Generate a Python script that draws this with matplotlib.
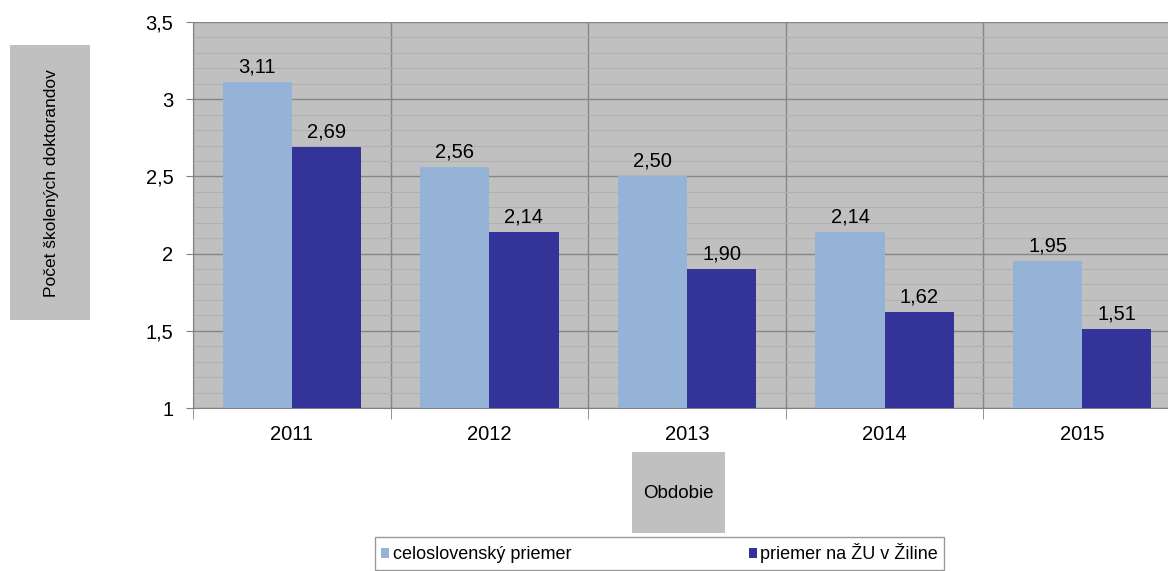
#!/usr/bin/env python3
"""Počet školených doktorandov - grouped bars, Excel-like look."""
import matplotlib
matplotlib.use('Agg')
import matplotlib.pyplot as plt
from matplotlib.patches import Rectangle
from matplotlib.ticker import MultipleLocator, FixedLocator, FuncFormatter

years = ['2011', '2012', '2013', '2014', '2015']
slovakia_avg = [3.11, 2.56, 2.50, 2.14, 1.95]
zu_avg = [2.69, 2.14, 1.90, 1.62, 1.51]
series_names = ['celoslovenský priemer', 'priemer na ŽU v Žiline']

LIGHT = '#95B3D7'
DARK = '#333399'
PLOT_BG = '#C0C0C0'
GRID_MAJ = '#868686'
GRID_MIN = '#B0B0B0'

plt.rcParams['font.family'] = ['Liberation Sans', 'DejaVu Sans']

W, H = 1168, 571
fig = plt.figure(figsize=(W / 100, H / 100), dpi=100)
fig.patch.set_facecolor('white')

# plot area in pixels: x 193..1181 (cut at right edge), y 22..408
ax = fig.add_axes([193 / W, (H - 408) / H, (1181 - 193) / W, (408 - 22) / H])
ax.set_facecolor(PLOT_BG)

x = list(range(len(years)))
bw = 0.35
b1 = ax.bar([i - bw / 2 for i in x], slovakia_avg, bw, color=LIGHT, zorder=3,
            label=series_names[0])
b2 = ax.bar([i + bw / 2 for i in x], zu_avg, bw, color=DARK, zorder=3,
            label=series_names[1])

fmt = lambda v: f'{v:.2f}'.replace('.', ',')
ax.bar_label(b1, labels=[fmt(v) for v in slovakia_avg], padding=4, fontsize=14.5)
ax.bar_label(b2, labels=[fmt(v) for v in zu_avg], padding=4, fontsize=14.5)

ax.set_xlim(-0.5, len(years) - 0.5)
ax.set_ylim(1, 3.5)

# y axis
ax.yaxis.set_major_locator(MultipleLocator(0.5))
ax.yaxis.set_minor_locator(MultipleLocator(0.1))
ax.yaxis.set_major_formatter(FuncFormatter(lambda v, p: f'{v:g}'.replace('.', ',')))
ax.tick_params(axis='y', which='major', length=5, color='#808080', labelsize=14.5, pad=9)
ax.tick_params(axis='y', which='minor', length=0)
ax.grid(axis='y', which='major', color=GRID_MAJ, linewidth=1.0, zorder=1)
ax.grid(axis='y', which='minor', color=GRID_MIN, linewidth=0.8, zorder=1)

# x axis: labels centred, ticks at category boundaries
ax.set_xticks(x)
ax.set_xticklabels(years)
ax.xaxis.set_minor_locator(FixedLocator([i + 0.5 for i in x[:-1]] + [-0.5]))
ax.tick_params(axis='x', which='major', length=0, labelsize=14.5, pad=12)
ax.tick_params(axis='x', which='minor', length=8, color='#808080')
ax.grid(axis='x', which='minor', color=GRID_MAJ, linewidth=1.0, zorder=2)
ax.grid(axis='x', which='major', visible=False)
ax.set_axisbelow(True)

for s in ['top', 'right']:
    ax.spines[s].set_visible(False)
ax.spines['left'].set_color('#808080')
ax.spines['bottom'].set_color('#808080')

# y-axis title box
fig.patches.append(Rectangle((10 / W, (H - 320) / H), 80 / W, 275 / H,
                             transform=fig.transFigure, facecolor=PLOT_BG,
                             edgecolor='none'))
fig.text(52 / W, 1 - 183 / H, 'Počet školených doktorandov', rotation=90,
         ha='center', va='center', fontsize=12.5)

# x-axis title box
fig.patches.append(Rectangle((632 / W, (H - 533) / H), 93 / W, 81 / H,
                             transform=fig.transFigure, facecolor=PLOT_BG,
                             edgecolor='none'))
fig.text(678 / W, 1 - 493 / H, 'Obdobie', ha='center', va='center', fontsize=13.5)

leg = fig.legend(loc='upper left', bbox_to_anchor=(375 / W, 1 - 537 / H), ncol=2,
                 frameon=True, fancybox=False, edgecolor='#808080',
                 fontsize=13, handlelength=0.45, handleheight=0.45,
                 handletextpad=0.2, columnspacing=9.8, borderpad=0.35,
                 borderaxespad=0)
leg.get_frame().set_linewidth(1.0)

fig.savefig('out.png', dpi=100, facecolor='white')
plt.close(fig)
